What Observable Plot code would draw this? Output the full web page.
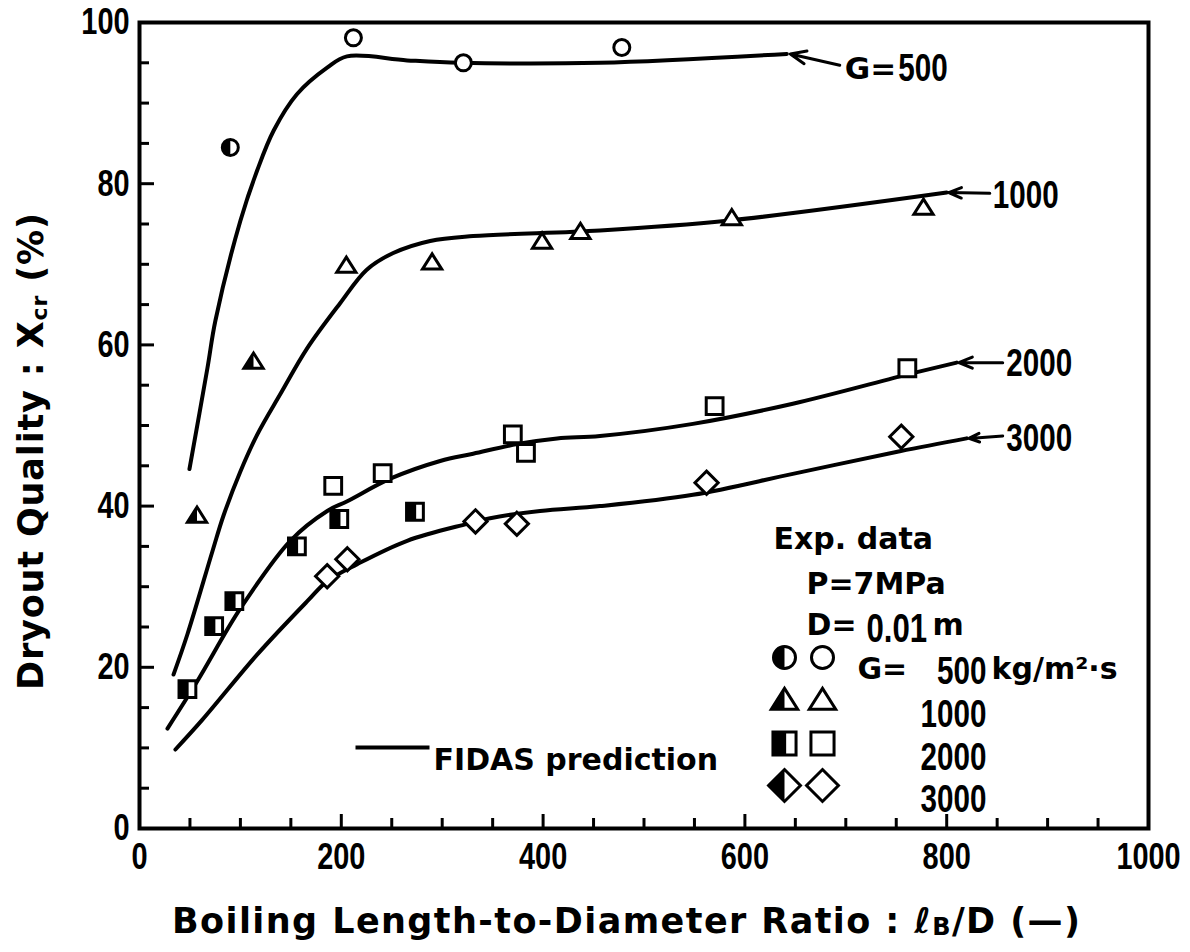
<!DOCTYPE html>
<html><head><meta charset="utf-8">
<script src="https://cdn.jsdelivr.net/npm/d3@7"></script>
<script src="https://cdn.jsdelivr.net/npm/@observablehq/plot@0.6"></script>
<style>
html,body{margin:0;padding:0;background:#fff;}
#chart{width:1190px;height:952px;}
svg{overflow:visible;}
</style></head><body><div id="chart"></div>
<script>
// ---------------- data ----------------
const xTicksMajor = [0, 200, 400, 600, 800, 1000];
const xTicksMinor = [50, 100, 150, 250, 300, 350, 450, 500, 550, 650, 700, 750, 850, 900, 950];
const yTicksMajor = [0, 20, 40, 60, 80, 100];
const yTicksMinor = [5, 10, 15, 25, 30, 35, 45, 50, 55, 65, 70, 75, 85, 90, 95];

// FIDAS prediction curves [l_B/D, X_cr %]
const fidas500 = [[49.5,44.6],[67.3,57.1],[75.2,63.0],[100,75.4],[116.5,81.6],[133,86.6],[156,91.1],[186,94.4],[205.6,95.8],[265.3,95.3],[317.8,95.0],[456.4,95.0],[641.6,96.1]];
const fidas1000 = [[33.7,19.1],[47.5,24.1],[72.3,34.4],[83.2,38.8],[100,44.3],[116.8,48.9],[139.6,53.9],[166.3,59.6],[199,65.2],[225,69.3],[251.5,71.4],[288.1,72.9],[330.7,73.5],[456.4,74.2],[582.2,75.4],[800,78.9]];
const fidas2000 = [[27.7,12.4],[57.4,18.3],[100,27.3],[149.5,35.7],[186.1,39.4],[205.9,40.6],[248.5,43.4],[298.0,45.6],[330.7,46.5],[374.3,47.7],[413.9,48.4],[456.4,48.7],[548.5,50.2],[647.5,52.7],[763.4,56.4],[809.9,57.8]];
const fidas3000 = [[35.6,9.8],[62.4,13.5],[116.8,21.6],[166.3,28.2],[186.1,30.7],[215.8,32.8],[265.3,35.7],[324.8,37.8],[347.5,38.5],[397.0,39.4],[456.4,40.0],[548.5,41.4],[647.5,44.0],[753.5,46.8],[819.8,48.4]];

// experimental data: open = plain symbol, half = left-half-filled symbol
const open500  = [[212,98.1],[321,95.0],[478,96.9]];
const half500  = [[90,84.5]];
const open1000 = [[205,69.8],[290,70.2],[399,72.8],[437,74.0],[587,75.7],[777,77.0]];
const half1000 = [[57,38.8],[113,57.9]];
const open2000 = [[192,42.5],[241,44.1],[370,48.9],[383,46.6],[570,52.4],[761,57.1]];
const half2000 = [[47.5,17.3],[74,25.1],[94,28.2],[156,35.0],[198,38.4],[273,39.3]];
const open3000 = [[186,31.3],[206,33.4],[333,38.1],[374,37.8],[562,42.9],[755,48.6]];

// curve labels: prefix/number text, label anchors, arrow tail and arrow head (curve end)
const curveLabels = [
  {prefix: "G=", text: "500",  px: 699, nx: 752,   y: 94.2, tx: 694,   ty: 94.7, hx: 645, hy: 96.1},
  {prefix: "",   text: "1000", px: 845, nx: 845.6, y: 78.5, tx: 842.7, ty: 78.8, hx: 802, hy: 78.9},
  {prefix: "",   text: "2000", px: 859, nx: 859,   y: 57.6, tx: 855.5, ty: 57.8, hx: 812, hy: 57.8},
  {prefix: "",   text: "3000", px: 859, nx: 859,   y: 48.3, tx: 855.5, ty: 48.7, hx: 822, hy: 48.4}
];
const legendG = ["500", "1000", "2000", "3000"];

// ---------------- layout ----------------
const W = 1190, H = 952;
const M = {top: 22, right: 42, bottom: 124, left: 139};
const frameW = W - M.left - M.right, frameH = H - M.top - M.bottom;
const SANS = "'DejaVu Sans', sans-serif";
const NARROW = "'Liberation Sans', Arial, sans-serif";   // horizontally condensed afterwards
const INK = "#000";

// custom symbols (k = radius derived from r)
const sym = fn => ({draw(c, size) { const k = Math.sqrt(size / Math.PI); fn(c, k); }});
const circleS = sym((c,k) => { c.moveTo(k,0); c.arc(0,0,k,0,2*Math.PI); c.closePath(); });
const circleL = sym((c,k) => { c.moveTo(0,-k); c.arc(0,0,k,-Math.PI/2,Math.PI/2,true); c.closePath(); });
const triS = sym((c,k) => { c.moveTo(0,-1.1*k); c.lineTo(1.2*k,0.8*k); c.lineTo(-1.2*k,0.8*k); c.closePath(); });
const triL = sym((c,k) => { c.moveTo(0,-1.1*k); c.lineTo(0,0.8*k); c.lineTo(-1.2*k,0.8*k); c.closePath(); });
const sqS = sym((c,k) => { const s=1.05*k; c.moveTo(-s,-s); c.lineTo(s,-s); c.lineTo(s,s); c.lineTo(-s,s); c.closePath(); });
const sqL = sym((c,k) => { const s=1.05*k; c.moveTo(-s,-s); c.lineTo(0.15*k,-s); c.lineTo(0.15*k,s); c.lineTo(-s,s); c.closePath(); });
const diaS = sym((c,k) => { const s=1.45*k; c.moveTo(0,-s); c.lineTo(s,0); c.lineTo(0,s); c.lineTo(-s,0); c.closePath(); });
const diaL = sym((c,k) => { const s=1.45*k; c.moveTo(0,-s); c.lineTo(0,s); c.lineTo(-s,0); c.closePath(); });
const hbar = sym((c,k) => { c.moveTo(-k,0); c.lineTo(k,0); });

const R = 8;
const xy = {x: d => d[0], y: d => d[1]};
const openDots = (data, s) => Plot.dot(data, {...xy, symbol: s, r: R, fill: "white", stroke: INK, strokeWidth: 3});
const halfDots = (data, sO, sL) => [
  Plot.dot(data, {...xy, symbol: sO, r: R, fill: "white", stroke: INK, strokeWidth: 3}),
  Plot.dot(data, {...xy, symbol: sL, r: R, fill: INK})
];
const curve = data => Plot.line(data, {...xy, curve: "catmull-rom", stroke: INK, strokeWidth: 4});

// legend helpers (pixel layout inside the frame)
const at = (px, py) => ({frameAnchor: "top-left", dx: px - M.left, dy: py - M.top});
const ltext = (str, px, py, o = {}) => Plot.text([str], {...at(px, py), text: d => d, fill: INK,
  fontFamily: SANS, fontWeight: "bold", fontSize: 30, textAnchor: "start", ...o});
const ldot = (s, px, py, o = {}) => Plot.dot([0], {...at(px, py), symbol: s, r: 11, ...o});
const legendSyms = [[circleS, circleL], [triS, triL], [sqS, sqL], [diaS, diaL]];
const rowY = [657, 700, 743, 785];
const legendMarks = [];
legendSyms.forEach(([sO, sL], i) => {
  legendMarks.push(ldot(sO, 784, rowY[i], {fill: "white", stroke: INK, strokeWidth: 3}));
  legendMarks.push(ldot(sL, 784, rowY[i], {fill: INK}));
  legendMarks.push(ldot(sO, 822, rowY[i], {fill: "white", stroke: INK, strokeWidth: 3}));
  legendMarks.push(ltext(legendG[i], 986, rowY[i], {fontFamily: NARROW, fontSize: 38, textAnchor: "end"}));
});

const chart = Plot.plot({
  width: W, height: H,
  marginTop: M.top, marginRight: M.right, marginBottom: M.bottom, marginLeft: M.left,
  x: {domain: [0, 1000], axis: null},
  y: {domain: [0, 100], axis: null},
  style: {background: "white", color: INK},
  marks: [
    // ticks (inward)
    Plot.ruleX(xTicksMajor, {x: d => d, insetTop: frameH - 14, stroke: INK, strokeWidth: 3}),
    Plot.ruleX(xTicksMinor, {x: d => d, insetTop: frameH - 10, stroke: INK, strokeWidth: 3}),
    Plot.ruleY(yTicksMajor, {y: d => d, insetRight: frameW - 15, stroke: INK, strokeWidth: 3}),
    Plot.ruleY(yTicksMinor, {y: d => d, insetRight: frameW - 10, stroke: INK, strokeWidth: 3}),
    Plot.axisX(xTicksMajor, {tickSize: 0, tickPadding: 14, label: null, tickFormat: d => String(d),
      fontFamily: NARROW, fontWeight: "bold", fontSize: 37, fill: INK}),
    Plot.axisY(yTicksMajor, {tickSize: 0, tickPadding: 10, label: null, tickFormat: d => String(d),
      fontFamily: NARROW, fontWeight: "bold", fontSize: 37, fill: INK}),
    Plot.frame({stroke: INK, strokeWidth: 4}),
    // curves
    curve(fidas500), curve(fidas1000), curve(fidas2000), curve(fidas3000),
    // curve labels and arrows
    Plot.arrow(curveLabels, {x1: "tx", y1: "ty", x2: "hx", y2: "hy", stroke: INK, strokeWidth: 3, headLength: 12, headAngle: 45}),
    Plot.text(curveLabels.filter(d => d.prefix), {x: "px", y: "y", text: "prefix", textAnchor: "start",
      fontFamily: SANS, fontWeight: "bold", fontSize: 31, fill: INK}),
    Plot.text(curveLabels, {x: "nx", y: "y", text: "text", textAnchor: "start",
      fontFamily: NARROW, fontWeight: "bold", fontSize: 38, fill: INK}),
    // data
    openDots(open500, circleS), ...halfDots(half500, circleS, circleL),
    openDots(open1000, triS), ...halfDots(half1000, triS, triL),
    openDots(open2000, sqS), ...halfDots(half2000, sqS, sqL),
    openDots(open3000, diaS),
    // legend
    ltext("Exp. data", 773, 527),
    ltext("P=7MPa", 806, 572),
    ltext("D=", 806, 613),
    ltext("0.01", 866, 613, {fontFamily: NARROW, fontSize: 40}),
    ltext("m", 932, 613),
    ltext("G=", 857, rowY[0]),
    ltext("kg/m²·s", 991, rowY[0]),
    ...legendMarks,
    ldot(hbar, 392, 747, {r: 37, stroke: INK, strokeWidth: 4, fill: "none"}),
    ltext("FIDAS prediction", 433, 748)
  ]
});

document.getElementById("chart").appendChild(chart);
const svg = d3.select(chart);

// condense the narrow-style digits horizontally via textLength (anchor is kept)
svg.selectAll("g").filter(function() {
  const f = this.getAttribute("font-family"); return f && f.includes("Liberation Sans");
}).selectAll("text").each(function() {
  const w = this.getComputedTextLength();
  if (w > 0) {
    this.setAttribute("textLength", (w * 0.78).toFixed(1));
    this.setAttribute("lengthAdjust", "spacingAndGlyphs");
  }
});

// x-axis title with italic ℓ and small B
const xt = svg.append("text").attr("x", 172).attr("y", 933).attr("text-anchor", "start")
  .attr("font-family", "DejaVu Sans").attr("font-weight", "bold").attr("font-size", 35)
  .attr("fill", INK).attr("textLength", 908).attr("lengthAdjust", "spacing");
xt.append("tspan").text("Boiling Length-to-Diameter Ratio : ");
xt.append("tspan").attr("font-style", "italic").text("ℓ");
xt.append("tspan").attr("font-size", 24).attr("dy", 2).text("B");
xt.append("tspan").attr("dy", -2).text("/D (—)");
// y-axis title with subscript cr
const yt = svg.append("text").attr("transform", "translate(43,690) rotate(-90)").attr("text-anchor", "start")
  .attr("font-family", "DejaVu Sans").attr("font-weight", "bold").attr("font-size", 35)
  .attr("fill", INK).attr("textLength", 477).attr("lengthAdjust", "spacing");
yt.append("tspan").text("Dryout Quality : X");
yt.append("tspan").attr("font-size", 22).attr("dy", 4).text("cr");
yt.append("tspan").attr("dy", -4).text(" (%)");
</script>
</body></html>
